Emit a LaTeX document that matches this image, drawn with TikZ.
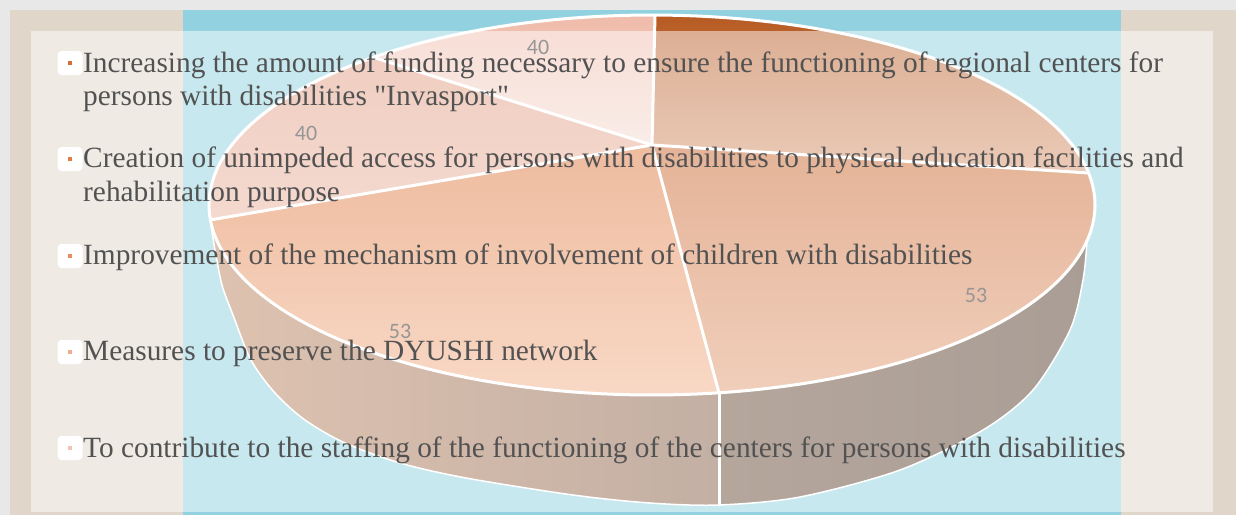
\documentclass[tikz,border=0pt]{standalone}
\usepackage{fontspec}
\newfontfamily\ser{Liberation Serif}
\newfontfamily\carl{Carlito}
\definecolor{margin}{RGB}{232,232,232}
\definecolor{beige}{RGB}{224,215,202}
\definecolor{water}{RGB}{146,210,224}
\definecolor{sAt}{RGB}{182,90,34}
\definecolor{sAb}{RGB}{215,150,112}
\definecolor{sBt}{RGB}{203,104,48}
\definecolor{sBb}{RGB}{226,158,118}
\definecolor{sCt}{RGB}{222,120,62}
\definecolor{sCb}{RGB}{242,178,140}
\definecolor{sDt}{RGB}{226,158,132}
\definecolor{sDb}{RGB}{234,180,160}
\definecolor{sEt}{RGB}{240,187,170}
\definecolor{sEb}{RGB}{244,218,208}
\definecolor{wallCl}{RGB}{190,134,98}
\definecolor{wallCr}{RGB}{135,96,72}
\definecolor{wallBl}{RGB}{108,78,58}
\definecolor{wallBr}{RGB}{84,60,44}
\definecolor{txt}{RGB}{82,82,82}
\definecolor{lblgray}{RGB}{150,150,150}
\definecolor{bA}{RGB}{214,110,55}
\definecolor{bB}{RGB}{222,125,70}
\definecolor{bC}{RGB}{232,140,100}
\definecolor{bD}{RGB}{240,170,145}
\definecolor{bE}{RGB}{245,195,180}
\tikzset{
  itemtext/.style={anchor=base west, inner sep=0pt, text=txt,
    font=\ser\fontsize{29.35}{33}\selectfont},
  lbl/.style={inner sep=0pt, text=lblgray, font=\carl\fontsize{22}{26}\selectfont},
  bulletbox/.style={fill=white, rounded corners=4pt, minimum width=25pt,
    minimum height=24pt, inner sep=0pt},
  bulletdot/.style={minimum size=4.5pt, inner sep=0pt},
  sep/.style={white, line width=3pt, line cap=round},
}
\begin{document}
\begin{tikzpicture}[x=1pt,y=-1pt]
\useasboundingbox (0,0) rectangle (1236,515);
\clip (0,0) rectangle (1236,515);
% backgrounds
\fill[margin] (0,0) rectangle (1236,515);
\fill[beige] (10,10) rectangle (1236,515);
\fill[water] (183,10) rectangle (1121,515);
% pie geometry
\coordinate (A) at (652,145);
\coordinate (rT) at (655,15);
\coordinate (rR) at (1088.7,173);
\coordinate (rB) at (719,392.8);
\coordinate (rL) at (210.4,219.9);
\coordinate (rUL) at (373.2,57.3);
\coordinate (wB) at (719,505);
% pie side walls
\fill[left color=wallCl, right color=wallCr]
  plot[domain=-174:-81.3, samples=60] ({652+443*cos(\x)},{205-190*sin(\x)})
  -- plot[smooth] coordinates {(719,505) (650,503) (573,495) (466,478) (400,463) (345,443) (305,420) (275,393) (251,360) (233,315) (222,285) (215,250) (211,225)}
  -- cycle;
\fill[left color=wallBl, right color=wallBr]
  plot[domain=-81.3:-10.8, samples=60] ({652+443*cos(\x)},{205-190*sin(\x)})
  -- plot[smooth] coordinates {(1087,241) (1083,280) (1070,330) (1033,390) (983,430) (900,470) (800,497) (719,505)}
  -- cycle;
\draw[white, line width=1.5pt] plot[smooth] coordinates {(211,225) (215,250) (222,285) (233,315) (251,360) (275,393) (305,420) (345,443) (400,463) (466,478) (573,495) (650,503) (719,505) (800,497) (900,470) (983,430) (1033,390) (1070,330) (1083,280) (1087,241)};
\draw[sep] (rB) -- (wB);
% pie top slices
\fill[top color=sAt, bottom color=sAb] (A) -- plot[domain=9.7:89.6, samples=50] ({652+443*cos(\x)},{205-190*sin(\x)}) -- cycle;
\fill[top color=sBt, bottom color=sBb] (A) -- plot[domain=-81.3:9.7, samples=50] ({652+443*cos(\x)},{205-190*sin(\x)}) -- cycle;
\fill[top color=sCt, bottom color=sCb] (A) -- plot[domain=-175.5:-81.3, samples=50] ({652+443*cos(\x)},{205-190*sin(\x)}) -- cycle;
\fill[top color=sDt, bottom color=sDb] (A) -- plot[domain=129:184.5, samples=50] ({652+443*cos(\x)},{205-190*sin(\x)}) -- cycle;
\fill[top color=sEt, bottom color=sEb] (A) -- plot[domain=89.6:129, samples=50] ({652+443*cos(\x)},{205-190*sin(\x)}) -- cycle;
\draw[sep] (A) -- (rT);
\draw[sep] (A) -- (rR);
\draw[sep] (A) -- (rB);
\draw[sep] (A) -- (rL);
\draw[sep] (A) -- (rUL);
\draw[white, line width=3pt] plot[domain=0:360, samples=180] ({652+443*cos(\x)},{205-190*sin(\x)}) -- cycle;
% translucent panel
\fill[white, opacity=0.5] (31,31) rectangle (1213,512);
% data labels
\node[lbl] (l1) at (538,47) {40};
\node[lbl] (l2) at (306,133) {40};
\node[lbl] (l3) at (400,331) {53};
\node[lbl] (l4) at (976,295) {53};
% legend
\node[bulletbox] (b1) at (70,63) {};
\node[bulletdot, fill=bA] (d1) at (b1) {};
\node[bulletbox] (b2) at (70,159) {};
\node[bulletdot, fill=bB] (d2) at (b2) {};
\node[bulletbox] (b3) at (70,256) {};
\node[bulletdot, fill=bC] (d3) at (b3) {};
\node[bulletbox] (b4) at (70,352) {};
\node[bulletdot, fill=bD] (d4) at (b4) {};
\node[bulletbox] (b5) at (70,448) {};
\node[bulletdot, fill=bE] (d5) at (b5) {};
\node[itemtext] (t1a) at (83,72) {Increasing the amount of funding necessary to ensure the functioning of regional centers for};
\node[itemtext] (t1b) at (83,105) {persons with disabilities "Invasport"};
\node[itemtext] (t2a) at (83,167) {Creation of unimpeded access for persons with disabilities to physical education facilities and};
\node[itemtext] (t2b) at (83,201) {rehabilitation purpose};
\node[itemtext] (t3) at (83,264) {Improvement of the mechanism of involvement of children with disabilities};
\node[itemtext] (t4) at (83,360) {Measures to preserve the DYUSHI network};
\node[itemtext] (t5) at (83,457) {To contribute to the staffing of the functioning of the centers for persons with disabilities};
\end{tikzpicture}
\end{document}
